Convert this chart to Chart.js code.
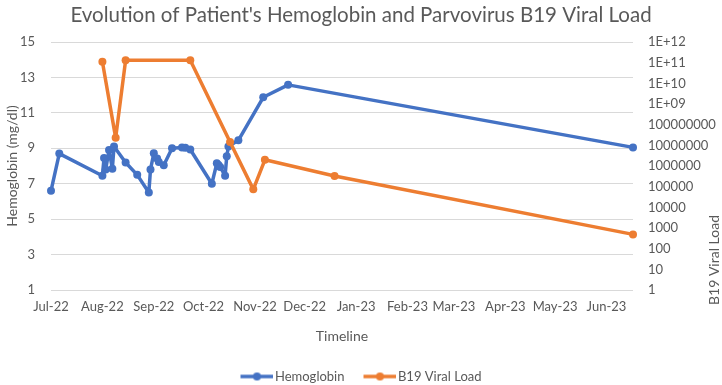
<!DOCTYPE html>
<html><head><meta charset="utf-8">
<script src="https://cdn.jsdelivr.net/npm/chart.js@4.4.0/dist/chart.umd.min.js"></script>
<style>html,body{margin:0;padding:0;background:#fff;}#wrap{width:722px;height:385px;}</style>
</head><body><div id="wrap"><canvas id="c" width="722" height="385"></canvas></div>
<script>
const chartTitle = "Evolution of Patient's Hemoglobin and Parvovirus B19 Viral Load";
const hbLabel = 'Hemoglobin';
const vlLabel = 'B19 Viral Load';
const hbDates = ['2022-07-01','2022-07-06','2022-08-01','2022-08-02','2022-08-03','2022-08-05','2022-08-07','2022-08-08','2022-08-15','2022-08-22','2022-08-29','2022-08-30','2022-09-01','2022-09-03','2022-09-04','2022-09-07','2022-09-12','2022-09-18','2022-09-20','2022-09-23','2022-10-06','2022-10-09','2022-10-10','2022-10-11','2022-10-14','2022-10-15','2022-10-16','2022-10-22','2022-11-06','2022-11-21','2023-06-17'];
const hbValues = [6.6,8.7,7.45,8.45,7.8,8.9,7.85,9.1,8.2,7.5,6.5,7.8,8.72,8.42,8.22,8.04,9.0,9.05,9.03,8.93,7.0,8.15,8.05,7.95,7.45,8.55,9.1,9.45,11.88,12.58,9.05];
const vlDates = ['2022-08-01','2022-08-09','2022-08-15','2022-09-23','2022-10-17','2022-10-31','2022-11-07','2022-12-19','2023-06-17'];
const vlValues = [1.1e11,2.3e7,1.3e11,1.3e11,1.45e7,7.4e4,2e6,3.3e5,490];
const monthStarts = ['2022-07-01','2022-08-01','2022-09-01','2022-10-01','2022-11-01','2022-12-01','2023-01-01','2023-02-01','2023-03-01','2023-04-01','2023-05-01','2023-06-01'];
const monthLabels = ['Jul-22','Aug-22','Sep-22','Oct-22','Nov-22','Dec-22','Jan-23','Feb-23','Mar-23','Apr-23','May-23','Jun-23'];
const hbTicks = [1,3,5,7,9,11,13,15];
const vlTicks = [1,10,100,1000,1e4,1e5,1e6,1e7,1e8,1e9,1e10,1e11,1e12];
const axisStart = '2022-07-01';
const axisEnd = '2023-06-17';

const dayOf = s => Math.round((Date.parse(s + 'T00:00:00Z') - Date.parse(axisStart + 'T00:00:00Z')) / 86400000);
const tickDays = monthStarts.map(dayOf);
const BLUE = '#4472C4', ORANGE = '#ED7D31', TXT = '#595959', FONT = 'Lato';

function legendImg(color) {
  const c = document.createElement('canvas');
  c.width = 38; c.height = 10;
  const g = c.getContext('2d');
  g.strokeStyle = color; g.lineWidth = 3.5;
  g.beginPath(); g.moveTo(5, 5); g.lineTo(38, 5); g.stroke();
  g.fillStyle = color; g.beginPath(); g.arc(21.5, 5, 4, 0, Math.PI * 2); g.fill();
  return c;
}
const legImgs = [legendImg(BLUE), legendImg(ORANGE)];

const rightTitle = {
  id: 'rightTitle',
  afterDraw(chart) {
    const ctx = chart.ctx;
    ctx.save();
    ctx.translate(714, 260);
    ctx.rotate(-Math.PI / 2);
    ctx.font = '14px ' + FONT;
    ctx.fillStyle = TXT;
    ctx.textAlign = 'center';
    ctx.textBaseline = 'middle';
    ctx.fillText(vlLabel, 0, 0);
    ctx.restore();
  }
};

function fmtLog(v) {
  if (v >= 1e9) { const e = Math.round(Math.log10(v)); return '1E+' + (e < 10 ? '0' + e : e); }
  return String(Math.round(v));
}

new Chart(document.getElementById('c'), {
  type: 'line',
  data: {
    datasets: [
      { label: hbLabel, data: hbDates.map((d, i) => ({x: dayOf(d), y: hbValues[i]})), yAxisID: 'y',
        borderColor: BLUE, backgroundColor: BLUE, pointBackgroundColor: BLUE, pointBorderColor: BLUE,
        borderWidth: 3.5, borderJoinStyle: 'round', borderCapStyle: 'round', pointRadius: 4, pointBorderWidth: 0, tension: 0, clip: false, order: 2 },
      { label: vlLabel, data: vlDates.map((d, i) => ({x: dayOf(d), y: vlValues[i]})), yAxisID: 'y1',
        borderColor: ORANGE, backgroundColor: ORANGE, pointBackgroundColor: ORANGE, pointBorderColor: ORANGE,
        borderWidth: 3.5, borderJoinStyle: 'round', borderCapStyle: 'round', pointRadius: 4, pointBorderWidth: 0, tension: 0, clip: false, order: 1 }
    ]
  },
  options: {
    responsive: false, animation: false, devicePixelRatio: 1,
    layout: { padding: { top: 0, left: 0, right: 0, bottom: -8 } },
    plugins: {
      title: { display: true, text: chartTitle, color: TXT, font: { family: FONT, size: 20.5, weight: 'normal', lineHeight: 1.2 }, padding: { top: 3, bottom: 14.4 } },
      legend: { position: 'bottom', labels: { usePointStyle: true, pointStyleWidth: 28, padding: 19, color: TXT, font: { family: FONT, size: 13 },
        sort: (a, b) => a.datasetIndex - b.datasetIndex,
        generateLabels(chart) {
          const items = Chart.defaults.plugins.legend.labels.generateLabels(chart);
          items.forEach(it => { it.pointStyle = legImgs[it.datasetIndex]; });
          return items;
        } } },
      tooltip: { enabled: false }
    },
    scales: {
      x: { type: 'linear', min: 0, max: dayOf(axisEnd),
        grid: { display: false, drawTicks: false }, border: { display: false },
        afterBuildTicks: s => { s.ticks = tickDays.map(v => ({ value: v })); },
        afterFit: s => { s.height = 61; },
        ticks: { autoSkip: false, maxRotation: 0, padding: 9, color: TXT, font: { family: FONT, size: 13 },
          callback: v => { const i = tickDays.indexOf(v); return i >= 0 ? monthLabels[i] : ''; } },
        title: { display: true, text: 'Timeline', color: TXT, font: { family: FONT, size: 14 }, padding: { top: 4, bottom: 6 } } },
      y: { type: 'linear', position: 'left', min: 1, max: 15,
        grid: { color: '#D9D9D9', lineWidth: 1, drawTicks: false }, border: { display: false },
        afterBuildTicks: s => { s.ticks = hbTicks.map(v => ({ value: v })); },
        afterFit: s => { s.width = 51; },
        ticks: { padding: 16, color: TXT, font: { family: FONT, size: 13 } },
        title: { display: true, text: 'Hemoglobin (mg/dl)', color: TXT, font: { family: FONT, size: 14 }, padding: { top: 4, bottom: 4 } } },
      y1: { type: 'logarithmic', position: 'right', min: 1, max: 1e12,
        grid: { display: false, drawTicks: false }, border: { display: false },
        afterBuildTicks: s => { s.ticks = vlTicks.map(v => ({ value: v })); },
        afterFit: s => { s.width = 89; },
        ticks: { padding: 15, color: TXT, font: { family: FONT, size: 13 }, callback: v => fmtLog(v) } }
    }
  },
  plugins: [rightTitle]
});
</script></body></html>
